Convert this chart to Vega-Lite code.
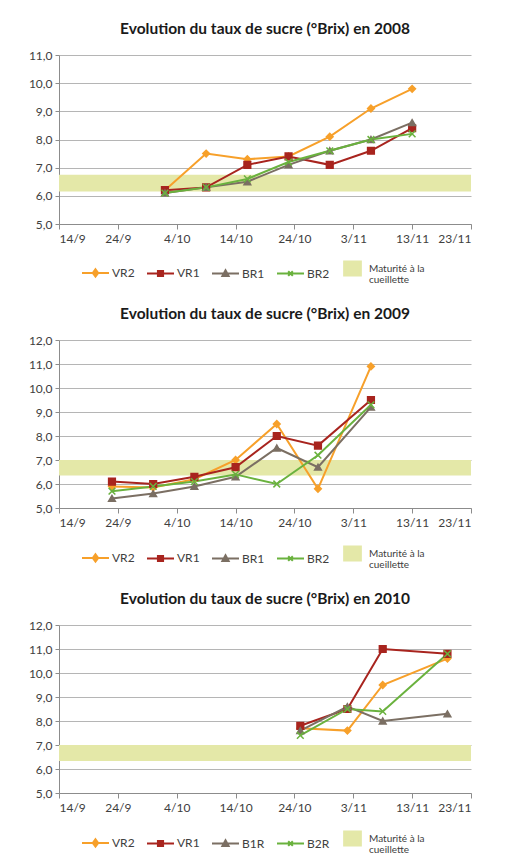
{
  "$schema": "https://vega.github.io/schema/vega-lite/v6.json",
  "padding": {"left": 28, "top": 21, "right": 10, "bottom": 0},
  "spacing": 21,
  "datasets": {
    "d2008": [
      {"series": "Maturité à la cueillette", "brix": 6.15, "hi": 6.75},
      {"series": "VR2", "date": "2008-10-02", "brix": 6.2},
      {"series": "VR2", "date": "2008-10-09", "brix": 7.5},
      {"series": "VR2", "date": "2008-10-16", "brix": 7.3},
      {"series": "VR2", "date": "2008-10-23", "brix": 7.4},
      {"series": "VR2", "date": "2008-10-30", "brix": 8.1},
      {"series": "VR2", "date": "2008-11-06", "brix": 9.1},
      {"series": "VR2", "date": "2008-11-13", "brix": 9.8},
      {"series": "VR1", "date": "2008-10-02", "brix": 6.2},
      {"series": "VR1", "date": "2008-10-09", "brix": 6.3},
      {"series": "VR1", "date": "2008-10-16", "brix": 7.1},
      {"series": "VR1", "date": "2008-10-23", "brix": 7.4},
      {"series": "VR1", "date": "2008-10-30", "brix": 7.1},
      {"series": "VR1", "date": "2008-11-06", "brix": 7.6},
      {"series": "VR1", "date": "2008-11-13", "brix": 8.4},
      {"series": "BR1", "date": "2008-10-02", "brix": 6.1},
      {"series": "BR1", "date": "2008-10-09", "brix": 6.3},
      {"series": "BR1", "date": "2008-10-16", "brix": 6.5},
      {"series": "BR1", "date": "2008-10-23", "brix": 7.1},
      {"series": "BR1", "date": "2008-10-30", "brix": 7.6},
      {"series": "BR1", "date": "2008-11-06", "brix": 8.0},
      {"series": "BR1", "date": "2008-11-13", "brix": 8.6},
      {"series": "BR2", "date": "2008-10-02", "brix": 6.1},
      {"series": "BR2", "date": "2008-10-09", "brix": 6.3},
      {"series": "BR2", "date": "2008-10-16", "brix": 6.6},
      {"series": "BR2", "date": "2008-10-23", "brix": 7.2},
      {"series": "BR2", "date": "2008-10-30", "brix": 7.6},
      {"series": "BR2", "date": "2008-11-06", "brix": 8.0},
      {"series": "BR2", "date": "2008-11-13", "brix": 8.2}
    ],
    "d2009": [
      {"series": "Maturité à la cueillette", "brix": 6.35, "hi": 7.0},
      {"series": "VR2", "date": "2009-09-23", "brix": 5.9},
      {"series": "VR2", "date": "2009-09-30", "brix": 5.85},
      {"series": "VR2", "date": "2009-10-07", "brix": 6.2},
      {"series": "VR2", "date": "2009-10-14", "brix": 7.0},
      {"series": "VR2", "date": "2009-10-21", "brix": 8.5},
      {"series": "VR2", "date": "2009-10-28", "brix": 5.8},
      {"series": "VR2", "date": "2009-11-06", "brix": 10.9},
      {"series": "VR1", "date": "2009-09-23", "brix": 6.1},
      {"series": "VR1", "date": "2009-09-30", "brix": 6.0},
      {"series": "VR1", "date": "2009-10-07", "brix": 6.3},
      {"series": "VR1", "date": "2009-10-14", "brix": 6.7},
      {"series": "VR1", "date": "2009-10-21", "brix": 8.0},
      {"series": "VR1", "date": "2009-10-28", "brix": 7.6},
      {"series": "VR1", "date": "2009-11-06", "brix": 9.5},
      {"series": "BR1", "date": "2009-09-23", "brix": 5.4},
      {"series": "BR1", "date": "2009-09-30", "brix": 5.6},
      {"series": "BR1", "date": "2009-10-07", "brix": 5.9},
      {"series": "BR1", "date": "2009-10-14", "brix": 6.3},
      {"series": "BR1", "date": "2009-10-21", "brix": 7.5},
      {"series": "BR1", "date": "2009-10-28", "brix": 6.7},
      {"series": "BR1", "date": "2009-11-06", "brix": 9.2},
      {"series": "BR2", "date": "2009-09-23", "brix": 5.7},
      {"series": "BR2", "date": "2009-09-30", "brix": 5.9},
      {"series": "BR2", "date": "2009-10-07", "brix": 6.1},
      {"series": "BR2", "date": "2009-10-14", "brix": 6.4},
      {"series": "BR2", "date": "2009-10-21", "brix": 6.0},
      {"series": "BR2", "date": "2009-10-28", "brix": 7.2},
      {"series": "BR2", "date": "2009-11-06", "brix": 9.3}
    ],
    "d2010": [
      {"series": "Maturité à la cueillette", "brix": 6.33, "hi": 7.0},
      {"series": "VR2", "date": "2010-10-25", "brix": 7.7},
      {"series": "VR2", "date": "2010-11-02", "brix": 7.6},
      {"series": "VR2", "date": "2010-11-08", "brix": 9.5},
      {"series": "VR2", "date": "2010-11-19", "brix": 10.6},
      {"series": "VR1", "date": "2010-10-25", "brix": 7.8},
      {"series": "VR1", "date": "2010-11-02", "brix": 8.5},
      {"series": "VR1", "date": "2010-11-08", "brix": 11.0},
      {"series": "VR1", "date": "2010-11-19", "brix": 10.8},
      {"series": "B1R", "date": "2010-10-25", "brix": 7.6},
      {"series": "B1R", "date": "2010-11-02", "brix": 8.6},
      {"series": "B1R", "date": "2010-11-08", "brix": 8.0},
      {"series": "B1R", "date": "2010-11-19", "brix": 8.3},
      {"series": "B2R", "date": "2010-10-25", "brix": 7.4},
      {"series": "B2R", "date": "2010-11-02", "brix": 8.5},
      {"series": "B2R", "date": "2010-11-08", "brix": 8.4},
      {"series": "B2R", "date": "2010-11-19", "brix": 10.8}
    ]
  },
  "resolve": {"scale": {"x": "independent", "y": "independent", "color": "independent", "shape": "independent", "stroke": "independent"}, "legend": {"color": "independent"}},
  "vconcat": [
    {
      "width": 412, "height": 169,
      "title": "Evolution du taux de sucre (°Brix) en 2008",
      "data": {"name": "d2008"},
      "encoding": {
        "y": {"field": "brix", "type": "quantitative", "scale": {"domain": [5, 11], "nice": false, "zero": false}, "axis": {"title": null, "values": [5, 6, 7, 8, 9, 10, 11], "labelOverlap": false, "labelExpr": "replace(format(datum.value, '.1f'), '.', ',')"}},
        "color": {"field": "series", "type": "nominal",
          "scale": {"domain": ["VR2", "VR1", "BR1", "BR2", "Maturité à la cueillette"], "range": ["#F7A02A", "#A8241E", "#7B6F63", "#6AB23E", "#E4E8A8"]},
          "legend": {"title": null, "orient": "none", "legendX": 22, "legendY": 199, "direction": "horizontal", "columnPadding": 8, "labelFontSize": 12, "labelColor": "#404040", "labelOffset": 2, "symbolSize": 729,
            "labelExpr": "datum.value==='Maturité à la cueillette' ? ['Maturité à la','cueillette'] : datum.label",
            "encode": {
              "symbols": {"update": {
                "shape": {"signal": "datum.value==='VR2' ? 'M-1,0H1M0,-0.27L0.2,0L0,0.27L-0.2,0Z' : datum.value==='VR1' ? 'M-1,0H1M-0.19,-0.19H0.19V0.19H-0.19Z' : (datum.value==='BR1'||datum.value==='B1R') ? 'M-1,0H1M0,-0.25L0.23,0.17H-0.23Z' : (datum.value==='BR2'||datum.value==='B2R') ? 'M-1,0H1M-0.17,-0.17L0.17,0.17M-0.17,0.17L0.17,-0.17' : 'M-0.62,-0.52H0.62V0.52H-0.62Z'"},
                "fill": {"signal": "datum.value==='VR2' ? '#F7A02A' : datum.value==='VR1' ? '#A8241E' : (datum.value==='BR1'||datum.value==='B1R') ? '#7B6F63' : (datum.value==='BR2'||datum.value==='B2R') ? '#6AB23E' : '#E4E8A8'"},
                "stroke": {"signal": "datum.value==='VR2' ? '#F7A02A' : datum.value==='VR1' ? '#A8241E' : (datum.value==='BR1'||datum.value==='B1R') ? '#7B6F63' : (datum.value==='BR2'||datum.value==='B2R') ? '#6AB23E' : 'transparent'"},
                "strokeWidth": {"value": 2}, "opacity": {"value": 1}, "size": {"value": 729}}},
              "labels": {"update": {"fontSize": {"signal": "datum.value==='Maturité à la cueillette' ? 10 : 12"}, "lineHeight": {"value": 11.5}}}
            }}
        }
      },
      "layer": [
        {"transform": [{"filter": "datum.series==='Maturité à la cueillette'"}],
         "mark": {"type": "rect"},
         "encoding": {"y2": {"field": "hi"}}},
        {"transform": [{"filter": "datum.series!=='Maturité à la cueillette'"}],
         "mark": {"type": "line", "strokeWidth": 2},
         "encoding": {
           "x": {"field": "date", "type": "temporal", "scale": {"type": "utc", "nice": false, "domain": [{"year": 2008, "month": 9, "date": 14, "utc": true}, {"year": 2008, "month": 11, "date": 23, "utc": true}]},
             "axis": {"title": null, "format": "%-d/%-m", "values": [{"year": 2008, "month": 9, "date": 14, "utc": true}, {"year": 2008, "month": 9, "date": 24, "utc": true}, {"year": 2008, "month": 10, "date": 4, "utc": true}, {"year": 2008, "month": 10, "date": 14, "utc": true}, {"year": 2008, "month": 10, "date": 24, "utc": true}, {"year": 2008, "month": 11, "date": 3, "utc": true}, {"year": 2008, "month": 11, "date": 13, "utc": true}, {"year": 2008, "month": 11, "date": 23, "utc": true}]}}}},
        {"transform": [{"filter": "datum.series!=='Maturité à la cueillette'"}],
         "mark": {"type": "point", "filled": true, "size": 45, "strokeWidth": 1.5, "opacity": 1},
         "encoding": {
           "x": {"field": "date", "type": "temporal"},
           "shape": {"field": "series", "type": "nominal", "legend": null, "scale": {"domain": ["VR2", "VR1", "BR1", "BR2"], "range": ["diamond", "square", "triangle-up", "M-1,-1L1,1M-1,1L1,-1"]}},
           "stroke": {"field": "series", "type": "nominal", "legend": null, "scale": {"domain": ["VR2", "VR1", "BR1", "BR2"], "range": ["#F7A02A", "#A8241E", "#7B6F63", "#6AB23E"]}}}}
      ]
    },
    {
      "width": 412, "height": 168,
      "title": "Evolution du taux de sucre (°Brix) en 2009",
      "data": {"name": "d2009"},
      "encoding": {
        "y": {"field": "brix", "type": "quantitative", "scale": {"domain": [5, 12], "nice": false, "zero": false}, "axis": {"title": null, "values": [5, 6, 7, 8, 9, 10, 11, 12], "labelOverlap": false, "labelExpr": "replace(format(datum.value, '.1f'), '.', ',')"}},
        "color": {"field": "series", "type": "nominal",
          "scale": {"domain": ["VR2", "VR1", "BR1", "BR2", "Maturité à la cueillette"], "range": ["#F7A02A", "#A8241E", "#7B6F63", "#6AB23E", "#E4E8A8"]},
          "legend": {"title": null, "orient": "none", "legendX": 22, "legendY": 199, "direction": "horizontal", "columnPadding": 8, "labelFontSize": 12, "labelColor": "#404040", "labelOffset": 2, "symbolSize": 729,
            "labelExpr": "datum.value==='Maturité à la cueillette' ? ['Maturité à la','cueillette'] : datum.label",
            "encode": {
              "symbols": {"update": {
                "shape": {"signal": "datum.value==='VR2' ? 'M-1,0H1M0,-0.27L0.2,0L0,0.27L-0.2,0Z' : datum.value==='VR1' ? 'M-1,0H1M-0.19,-0.19H0.19V0.19H-0.19Z' : (datum.value==='BR1'||datum.value==='B1R') ? 'M-1,0H1M0,-0.25L0.23,0.17H-0.23Z' : (datum.value==='BR2'||datum.value==='B2R') ? 'M-1,0H1M-0.17,-0.17L0.17,0.17M-0.17,0.17L0.17,-0.17' : 'M-0.62,-0.52H0.62V0.52H-0.62Z'"},
                "fill": {"signal": "datum.value==='VR2' ? '#F7A02A' : datum.value==='VR1' ? '#A8241E' : (datum.value==='BR1'||datum.value==='B1R') ? '#7B6F63' : (datum.value==='BR2'||datum.value==='B2R') ? '#6AB23E' : '#E4E8A8'"},
                "stroke": {"signal": "datum.value==='VR2' ? '#F7A02A' : datum.value==='VR1' ? '#A8241E' : (datum.value==='BR1'||datum.value==='B1R') ? '#7B6F63' : (datum.value==='BR2'||datum.value==='B2R') ? '#6AB23E' : 'transparent'"},
                "strokeWidth": {"value": 2}, "opacity": {"value": 1}, "size": {"value": 729}}},
              "labels": {"update": {"fontSize": {"signal": "datum.value==='Maturité à la cueillette' ? 10 : 12"}, "lineHeight": {"value": 11.5}}}
            }}
        }
      },
      "layer": [
        {"transform": [{"filter": "datum.series==='Maturité à la cueillette'"}],
         "mark": {"type": "rect"},
         "encoding": {"y2": {"field": "hi"}}},
        {"transform": [{"filter": "datum.series!=='Maturité à la cueillette'"}],
         "mark": {"type": "line", "strokeWidth": 2},
         "encoding": {
           "x": {"field": "date", "type": "temporal", "scale": {"type": "utc", "nice": false, "domain": [{"year": 2009, "month": 9, "date": 14, "utc": true}, {"year": 2009, "month": 11, "date": 23, "utc": true}]},
             "axis": {"title": null, "format": "%-d/%-m", "values": [{"year": 2009, "month": 9, "date": 14, "utc": true}, {"year": 2009, "month": 9, "date": 24, "utc": true}, {"year": 2009, "month": 10, "date": 4, "utc": true}, {"year": 2009, "month": 10, "date": 14, "utc": true}, {"year": 2009, "month": 10, "date": 24, "utc": true}, {"year": 2009, "month": 11, "date": 3, "utc": true}, {"year": 2009, "month": 11, "date": 13, "utc": true}, {"year": 2009, "month": 11, "date": 23, "utc": true}]}}}},
        {"transform": [{"filter": "datum.series!=='Maturité à la cueillette'"}],
         "mark": {"type": "point", "filled": true, "size": 45, "strokeWidth": 1.5, "opacity": 1},
         "encoding": {
           "x": {"field": "date", "type": "temporal"},
           "shape": {"field": "series", "type": "nominal", "legend": null, "scale": {"domain": ["VR2", "VR1", "BR1", "BR2"], "range": ["diamond", "square", "triangle-up", "M-1,-1L1,1M-1,1L1,-1"]}},
           "stroke": {"field": "series", "type": "nominal", "legend": null, "scale": {"domain": ["VR2", "VR1", "BR1", "BR2"], "range": ["#F7A02A", "#A8241E", "#7B6F63", "#6AB23E"]}}}}
      ]
    },
    {
      "width": 412, "height": 168,
      "title": "Evolution du taux de sucre (°Brix) en 2010",
      "data": {"name": "d2010"},
      "encoding": {
        "y": {"field": "brix", "type": "quantitative", "scale": {"domain": [5, 12], "nice": false, "zero": false}, "axis": {"title": null, "values": [5, 6, 7, 8, 9, 10, 11, 12], "labelOverlap": false, "labelExpr": "replace(format(datum.value, '.1f'), '.', ',')"}},
        "color": {"field": "series", "type": "nominal",
          "scale": {"domain": ["VR2", "VR1", "B1R", "B2R", "Maturité à la cueillette"], "range": ["#F7A02A", "#A8241E", "#7B6F63", "#6AB23E", "#E4E8A8"]},
          "legend": {"title": null, "orient": "none", "legendX": 22, "legendY": 199, "direction": "horizontal", "columnPadding": 8, "labelFontSize": 12, "labelColor": "#404040", "labelOffset": 2, "symbolSize": 729,
            "labelExpr": "datum.value==='Maturité à la cueillette' ? ['Maturité à la','cueillette'] : datum.label",
            "encode": {
              "symbols": {"update": {
                "shape": {"signal": "datum.value==='VR2' ? 'M-1,0H1M0,-0.27L0.2,0L0,0.27L-0.2,0Z' : datum.value==='VR1' ? 'M-1,0H1M-0.19,-0.19H0.19V0.19H-0.19Z' : (datum.value==='BR1'||datum.value==='B1R') ? 'M-1,0H1M0,-0.25L0.23,0.17H-0.23Z' : (datum.value==='BR2'||datum.value==='B2R') ? 'M-1,0H1M-0.17,-0.17L0.17,0.17M-0.17,0.17L0.17,-0.17' : 'M-0.62,-0.52H0.62V0.52H-0.62Z'"},
                "fill": {"signal": "datum.value==='VR2' ? '#F7A02A' : datum.value==='VR1' ? '#A8241E' : (datum.value==='BR1'||datum.value==='B1R') ? '#7B6F63' : (datum.value==='BR2'||datum.value==='B2R') ? '#6AB23E' : '#E4E8A8'"},
                "stroke": {"signal": "datum.value==='VR2' ? '#F7A02A' : datum.value==='VR1' ? '#A8241E' : (datum.value==='BR1'||datum.value==='B1R') ? '#7B6F63' : (datum.value==='BR2'||datum.value==='B2R') ? '#6AB23E' : 'transparent'"},
                "strokeWidth": {"value": 2}, "opacity": {"value": 1}, "size": {"value": 729}}},
              "labels": {"update": {"fontSize": {"signal": "datum.value==='Maturité à la cueillette' ? 10 : 12"}, "lineHeight": {"value": 11.5}}}
            }}
        }
      },
      "layer": [
        {"transform": [{"filter": "datum.series==='Maturité à la cueillette'"}],
         "mark": {"type": "rect"},
         "encoding": {"y2": {"field": "hi"}}},
        {"transform": [{"filter": "datum.series!=='Maturité à la cueillette'"}],
         "mark": {"type": "line", "strokeWidth": 2},
         "encoding": {
           "x": {"field": "date", "type": "temporal", "scale": {"type": "utc", "nice": false, "domain": [{"year": 2010, "month": 9, "date": 14, "utc": true}, {"year": 2010, "month": 11, "date": 23, "utc": true}]},
             "axis": {"title": null, "format": "%-d/%-m", "values": [{"year": 2010, "month": 9, "date": 14, "utc": true}, {"year": 2010, "month": 9, "date": 24, "utc": true}, {"year": 2010, "month": 10, "date": 4, "utc": true}, {"year": 2010, "month": 10, "date": 14, "utc": true}, {"year": 2010, "month": 10, "date": 24, "utc": true}, {"year": 2010, "month": 11, "date": 3, "utc": true}, {"year": 2010, "month": 11, "date": 13, "utc": true}, {"year": 2010, "month": 11, "date": 23, "utc": true}]}}}},
        {"transform": [{"filter": "datum.series!=='Maturité à la cueillette'"}],
         "mark": {"type": "point", "filled": true, "size": 45, "strokeWidth": 1.5, "opacity": 1},
         "encoding": {
           "x": {"field": "date", "type": "temporal"},
           "shape": {"field": "series", "type": "nominal", "legend": null, "scale": {"domain": ["VR2", "VR1", "B1R", "B2R"], "range": ["diamond", "square", "triangle-up", "M-1,-1L1,1M-1,1L1,-1"]}},
           "stroke": {"field": "series", "type": "nominal", "legend": null, "scale": {"domain": ["VR2", "VR1", "B1R", "B2R"], "range": ["#F7A02A", "#A8241E", "#7B6F63", "#6AB23E"]}}}}
      ]
    }
  ],
  "config": {
    "font": "Lato",
    "view": {"stroke": null},
    "title": {"fontSize": 15.5, "fontWeight": "bold", "color": "#1a1a1a", "offset": 12, "anchor": "middle"},
    "axis": {"labelFontSize": 12, "labelColor": "#404040", "domainColor": "#8c8c8c", "tickColor": "#8c8c8c", "labelFont": "Lato"},
    "axisX": {"grid": false, "tickSize": 5, "labelPadding": 4},
    "axisY": {"grid": true, "gridColor": "#b5b5b5", "tickSize": 4, "labelPadding": 3},
    "legend": {"labelFont": "Lato"}
  }
}
